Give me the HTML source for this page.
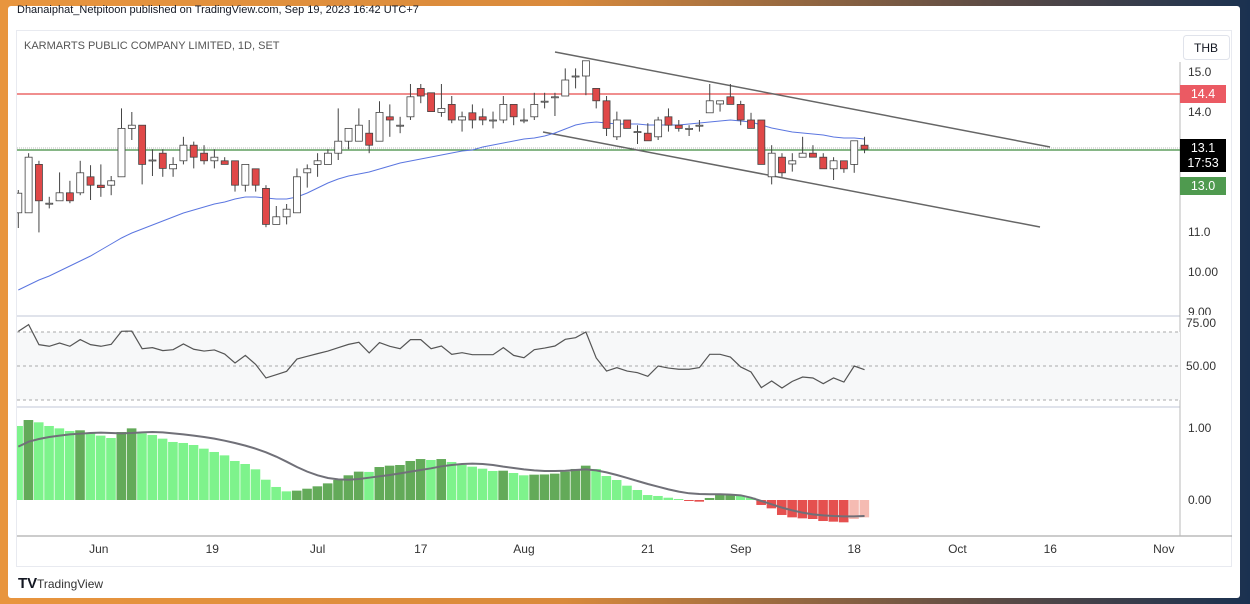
<!DOCTYPE html>
<html><head><meta charset="utf-8"><style>
html,body{margin:0;padding:0;width:1250px;height:604px;overflow:hidden;background:linear-gradient(90deg,#e8953e 0%,#d98a3c 45%,#5a4a45 80%,#1a3150 100%);font-family:"Liberation Sans",sans-serif;}
#card{position:absolute;left:8px;top:6px;width:1232px;height:592px;background:#fff;border-radius:3px;}
svg{position:absolute;left:0;top:0}
</style></head><body>
<div id="card"></div>
<svg id="c" width="1250" height="604"><defs><clipPath id="plot"><rect x="17" y="31" width="1163" height="505"/></clipPath><clipPath id="pax"><rect x="1180" y="60" width="52" height="255"/></clipPath></defs></svg>
<script>
const opens=[11.48,11.48,12.69,11.72,11.78,11.98,11.98,12.38,12.17,12.17,12.38,13.59,13.67,12.8,12.97,12.58,12.78,13.17,12.97,12.78,12.78,12.78,12.17,12.58,12.09,11.19,11.38,11.48,12.48,12.69,12.69,12.97,13.27,13.27,13.47,13.27,13.88,13.67,13.88,14.59,14.48,13.99,14.19,13.8,13.98,13.88,13.8,13.8,14.19,13.8,13.88,14.27,14.38,14.4,14.9,14.9,14.59,14.28,13.38,13.8,13.51,13.47,13.38,13.88,13.67,13.59,13.67,13.98,14.2,14.38,14.19,13.8,13.8,12.38,12.87,12.7,12.87,12.97,12.87,12.58,12.78,12.69,13.17];
const closes=[11.97,12.87,11.78,11.72,11.98,11.78,12.48,12.17,12.11,12.28,13.59,13.67,12.69,12.8,12.59,12.69,13.17,12.87,12.78,12.87,12.69,12.17,12.69,12.17,11.19,11.38,11.57,12.38,12.58,12.78,12.97,13.27,13.59,13.67,13.17,13.99,13.8,13.67,14.38,14.4,14.01,14.09,13.8,13.88,13.8,13.8,13.8,14.19,13.88,13.8,14.19,14.27,14.38,14.8,14.9,15.28,14.28,13.59,13.8,13.59,13.51,13.28,13.8,13.67,13.59,13.59,13.67,14.28,14.28,14.19,13.8,13.59,12.69,12.97,12.48,12.78,12.97,12.87,12.58,12.78,12.58,13.28,13.07];
const highs=[12.05,12.97,12.78,11.88,12.49,12.28,12.78,12.67,12.69,12.4,14.09,14.0,13.67,13.07,13.07,12.87,13.38,13.26,13.17,13.07,12.87,12.78,12.69,12.58,12.17,11.65,11.7,12.59,12.69,12.97,13.07,14.09,13.59,14.09,13.8,14.27,14.19,13.88,14.7,14.7,14.48,14.7,14.4,14.01,14.19,14.09,14.01,14.4,14.19,14.09,14.48,14.48,14.48,15.09,15.09,15.28,14.59,14.4,14.01,13.8,13.67,13.72,13.88,14.09,13.8,13.67,13.8,14.7,14.28,14.7,14.28,13.98,13.8,13.17,12.97,12.97,13.38,13.17,12.97,12.87,12.78,13.28,13.38];
const lows=[11.1,11.48,10.99,11.59,11.78,11.72,11.92,11.8,11.88,11.92,12.38,13.3,12.19,12.4,12.38,12.38,12.69,12.59,12.69,12.59,12.69,12.01,12.01,12.01,11.12,11.19,11.19,11.48,12.11,12.38,12.69,12.8,13.07,13.27,12.97,13.27,13.38,13.47,13.8,14.22,14.01,13.88,13.72,13.51,13.59,13.67,13.59,13.72,13.67,13.72,13.8,14.09,13.9,14.4,14.59,14.42,14.09,13.4,13.3,13.59,13.2,13.28,13.3,13.51,13.51,13.4,13.51,13.98,14.01,14.19,13.67,13.59,12.69,12.19,12.38,12.51,12.87,12.87,12.58,12.3,12.48,12.48,12.97];
const maVals=[9.55,9.675,9.8,9.9,10.025,10.15,10.275,10.4,10.55,10.7,10.85,10.975,11.075,11.175,11.275,11.375,11.475,11.55,11.625,11.7,11.75,11.825,11.875,11.875,11.85,11.825,11.825,11.875,11.975,12.1,12.225,12.325,12.4,12.45,12.5,12.575,12.65,12.725,12.775,12.825,12.875,12.925,12.975,13.025,13.05,13.125,13.175,13.225,13.275,13.325,13.35,13.4,13.475,13.575,13.675,13.725,13.75,13.725,13.7,13.7,13.7,13.675,13.675,13.675,13.675,13.7,13.725,13.75,13.775,13.8,13.775,13.75,13.675,13.6,13.55,13.5,13.475,13.45,13.425,13.375,13.35,13.35,13.325];
const rsiVals=[75.5,80.4,65.7,64.5,66.9,64.5,69.4,65.7,64.5,65.9,75.5,75.7,62.7,63.5,61.3,62,66.2,62.3,61,61.8,58.8,52.2,57.8,51.2,41.2,43.6,46.1,55.1,57.1,59.1,61,63.5,65.9,67.4,59.6,67.2,64.5,62.7,69.4,69.4,62.7,64.7,58.6,59.8,58.3,58.3,58.3,63.5,57.8,56.1,62,63.2,64.7,69.6,70.8,75,55.9,46.3,48.8,46.3,45.1,42.4,50,48.5,47.6,47.6,48.8,58.6,58.6,56.6,49.3,45.6,34.1,39,33.8,38.7,41.9,41.2,37,41.2,38.2,50,47.3];
const histVals=[1.028,1.111,1.079,1.028,0.995,0.958,0.968,0.926,0.894,0.861,0.944,0.995,0.926,0.903,0.852,0.806,0.792,0.764,0.713,0.667,0.62,0.542,0.5,0.426,0.282,0.181,0.12,0.13,0.157,0.19,0.231,0.278,0.343,0.394,0.39,0.458,0.477,0.486,0.542,0.569,0.556,0.569,0.528,0.486,0.463,0.435,0.403,0.407,0.375,0.343,0.352,0.355,0.366,0.394,0.431,0.477,0.431,0.333,0.278,0.199,0.139,0.069,0.056,0.032,0.014,-0.009,-0.023,0.028,0.069,0.071,0.056,0.032,-0.069,-0.116,-0.208,-0.241,-0.255,-0.264,-0.292,-0.301,-0.31,-0.264,-0.241];
const sigVals=[0.741,0.81,0.847,0.875,0.894,0.912,0.921,0.931,0.935,0.931,0.926,0.931,0.94,0.944,0.94,0.926,0.912,0.894,0.875,0.852,0.824,0.792,0.755,0.713,0.662,0.602,0.532,0.458,0.394,0.343,0.306,0.287,0.282,0.292,0.31,0.329,0.347,0.37,0.394,0.417,0.44,0.468,0.486,0.5,0.505,0.5,0.486,0.463,0.444,0.426,0.412,0.403,0.403,0.407,0.417,0.426,0.412,0.384,0.347,0.306,0.264,0.222,0.185,0.148,0.116,0.093,0.083,0.079,0.079,0.074,0.065,0.032,-0.014,-0.06,-0.106,-0.144,-0.176,-0.199,-0.213,-0.222,-0.227,-0.227,-0.222];
const priceTicks=[15.0,14.0,13.0,11.0,10.0,9.0];
const priceTickText=["15.0","14.0","13.0","11.0","10.00","9.00"];
const rsiTicks=[75,50];
const histTicks=[1.0,0.0];
const dateLabels=["Jun","19","Jul","17","Aug","21","Sep","18","Oct","16","Nov"];
const dateIdx=[7.8,18.8,29,39,49,61,70,81,91,100,111];
const resistance=14.45, support=13.05;

const X=i=>18.3+i*10.32;
const PY=v=>72+(15-v)*40;
const RY=v=>366-(v-50)*1.36;
const HY=v=>500-v*72;
const NS="http://www.w3.org/2000/svg";
const svg=document.getElementById('c');
function el(t,a,p){const e=document.createElementNS(NS,t);for(const k in a)e.setAttribute(k,a[k]);(p||svg).appendChild(e);return e;}

let t=el('text',{x:17,y:13,'font-size':11,fill:'#131722'});t.textContent="Dhanaiphat_Netpitoon published on TradingView.com, Sep 19, 2023 16:42 UTC+7";


let fr=el('rect',{x:16.5,y:30.5,width:1215,height:536,fill:'none',stroke:'#e8eaf0'});


t=el('text',{x:24,y:49,'font-size':11,fill:'#555'});t.textContent="KARMARTS PUBLIC COMPANY LIMITED, 1D, SET";


let cb=el('rect',{x:1183.5,y:35.5,width:46,height:24,rx:3,fill:'#fff',stroke:'#e0e3eb'});


t=el('text',{x:1206,y:52,'font-size':12,fill:'#131722','text-anchor':'middle'});t.textContent="THB";
[316,407].forEach(y=>{el('line',{x1:17,x2:1180,y1:y,y2:y,stroke:'#e0e3eb','stroke-width':2});});
el('line',{x1:17,x2:1232,y1:536,y2:536,stroke:'#999','stroke-width':1});
el('line',{x1:1180,x2:1180,y1:62,y2:536,stroke:'#b8b8b8','stroke-width':1});
let band=el('rect',{x:17,y:RY(75),width:1163,height:RY(25)-RY(75),fill:'#f7f8f9'});


[75,50,25].forEach(v=>el('line',{x1:17,x2:1180,y1:RY(v),y2:RY(v),stroke:'#aaa','stroke-dasharray':'3,3'}));
const pax=el('g',{'clip-path':'url(#pax)'});
priceTicks.forEach((v,k)=>{const y=PY(v);const tx=el('text',{x:1188,y:y+4,'font-size':12,fill:'#333'},pax);tx.textContent=priceTickText[k];

});
rsiTicks.forEach(v=>{const tx=el('text',{x:1186,y:v==75?327:RY(v)+4,'font-size':12,fill:'#333'});tx.textContent=v.toFixed(2);

});
histTicks.forEach(v=>{const tx=el('text',{x:1188,y:HY(v)+4,'font-size':12,fill:'#333'});tx.textContent=v.toFixed(2);

});
dateLabels.forEach((s,k)=>{const tx=el('text',{x:X(dateIdx[k]),y:553,'font-size':12,fill:'#333','text-anchor':'middle'});tx.textContent=s;

});
const P=el('g',{'clip-path':'url(#plot)'});
let rl=el('line',{x1:17,x2:1180,y1:PY(resistance),y2:PY(resistance),stroke:'#e84a4a','stroke-width':1.2},P);


let sl=el('line',{x1:17,x2:1180,y1:PY(support),y2:PY(support),stroke:'#3d8a3d','stroke-width':1.2},P);


el('line',{x1:17,x2:1180,y1:PY(support)-2,y2:PY(support)-2,stroke:'#bbb','stroke-dasharray':'1,1'},P);
let c1=el('line',{x1:555,y1:52,x2:1050,y2:147,stroke:'#666','stroke-width':1.5},P);


let c2=el('line',{x1:543,y1:132,x2:1040,y2:227,stroke:'#666','stroke-width':1.5},P);


let ma=el('polyline',{points:maVals.map((v,i)=>X(i)+','+PY(v)).join(' '),fill:'none',stroke:'#5b76e0','stroke-width':1},P);


opens.forEach((o,i)=>{const c=closes[i],x=X(i),up=c>=o;
const g=el('g',{},P);


el('line',{x1:x,x2:x,y1:PY(highs[i]),y2:PY(lows[i]),stroke:'#444','stroke-width':1},g);
const top=PY(Math.max(o,c)),h=Math.max(1,Math.abs(PY(o)-PY(c)));
el('rect',{x:x-3.5,y:top,width:7,height:h,fill:up?'#fff':'#e04848',stroke:'#444','stroke-width':0.8},g);});
let rs=el('polyline',{points:rsiVals.map((v,i)=>X(i)+','+RY(v)).join(' '),fill:'none',stroke:'#555','stroke-width':1.2},P);


histVals.forEach((v,i)=>{const p=i>0?histVals[i-1]:v;let col;
if(v>=0)col=(v>p)?'#63aa59':'#7ef38c';else col=(v>p)?'#f5bbb2':'#e5504f';
const y0=HY(0),y1=HY(v);
const r=el('rect',{x:X(i)-5,y:Math.min(y0,y1),width:9.6,height:Math.max(1,Math.abs(y1-y0)),fill:col},P);

});
let sg=el('polyline',{points:sigVals.map((v,i)=>X(i)+','+HY(v)).join(' '),fill:'none',stroke:'#707078','stroke-width':2},P);


function lab(y,h,bg,txt,name){const g=el('g',{});
el('rect',{x:1180,y:y,width:46,height:h,fill:bg},g);
txt.forEach((s,k)=>{const tx=el('text',{x:1203,y:y+13+k*15,'font-size':12.5,fill:'#fff','text-anchor':'middle'},g);tx.textContent=s;});}
lab(PY(resistance)-9,18,'#eb5a63',['14.4'],'resistance-label');
lab(139,33,'#000',['13.1','17:53'],'last-price-label');
lab(177,18,'#4f9a4f',['13.0'],'support-label');
t=el('text',{x:18,y:588,'font-size':15,'font-weight':'bold',fill:'#131722'});t.textContent="TV";


t=el('text',{x:37,y:588,'font-size':12,fill:'#333'});t.textContent="TradingView";


</script>
</body></html>
